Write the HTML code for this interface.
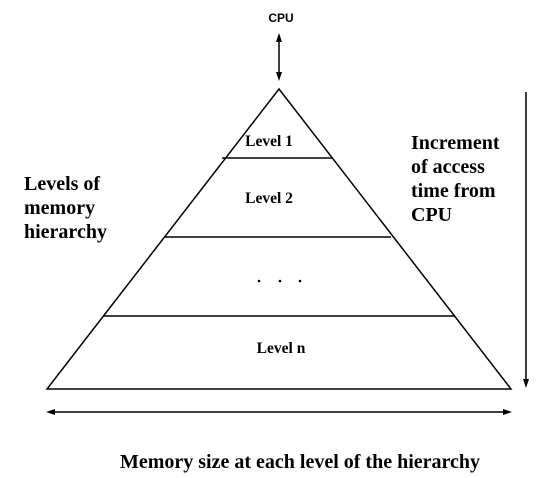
<!DOCTYPE html>
<html><head><style>
html,body{margin:0;padding:0;background:#fff;width:544px;height:478px;overflow:hidden}
svg text{font-family:"Liberation Serif",serif;font-weight:bold;fill:#000}
</style></head><body>
<svg width="544" height="478" viewBox="0 0 544 478" xmlns="http://www.w3.org/2000/svg">
<g stroke="#000" stroke-width="1.5" fill="none">
<polygon points="279,89 47,389 511,389"/>
<line x1="222" y1="158" x2="332" y2="158"/>
<line x1="165" y1="237" x2="391" y2="237"/>
<line x1="103" y1="316" x2="455" y2="316"/>
<line x1="279" y1="41" x2="279" y2="74"/>
<line x1="526" y1="92" x2="526" y2="380"/>
<line x1="54" y1="412" x2="504" y2="412"/>
</g>
<g fill="#000">
<polygon points="279,33 276,42 282,42"/>
<polygon points="279,81 276,72 282,72"/>
<polygon points="526,388 523,379 529,379"/>
<polygon points="46,412 55,409 55,415"/>
<polygon points="512,412 503,409 503,415"/>
<circle cx="259" cy="281" r="1.3"/>
<circle cx="280" cy="281" r="1.3"/>
<circle cx="300" cy="281" r="1.3"/>
</g>
<text x="281" y="22" text-anchor="middle" style="font-family:'Liberation Sans',sans-serif;font-size:12px">CPU</text>
<text x="269" y="146" text-anchor="middle" font-size="15.5">Level 1</text>
<text x="269" y="203" text-anchor="middle" font-size="15.5">Level 2</text>
<text x="281" y="353" text-anchor="middle" font-size="15.5">Level n</text>
<text x="24" y="190" font-size="20">Levels of</text>
<text x="24" y="214" font-size="20">memory</text>
<text x="24" y="238" font-size="20">hierarchy</text>
<text x="411" y="149" font-size="20">Increment</text>
<text x="411" y="173" font-size="20">of access</text>
<text x="411" y="197" font-size="20">time from</text>
<text x="411" y="221" font-size="20">CPU</text>
<text x="300" y="468" text-anchor="middle" font-size="20">Memory size at each level of the hierarchy</text>
</svg>
</body></html>
